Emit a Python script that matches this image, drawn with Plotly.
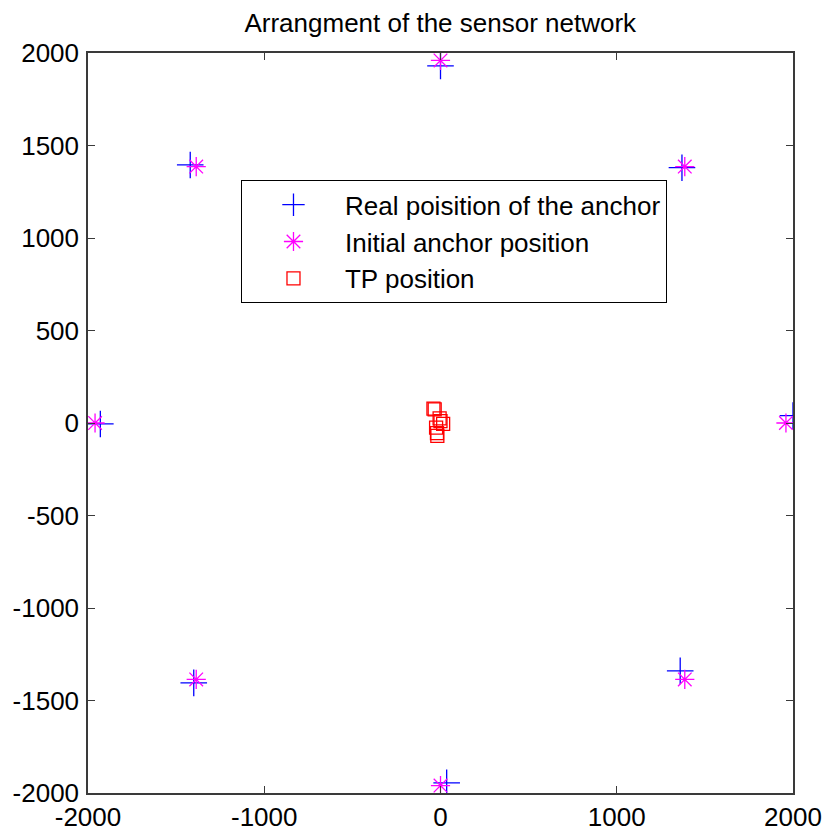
import plotly.graph_objects as go

# Real anchor positions (blue +)
real_x = [0, 1370, 2000, 1360, 35, -1400, -1930, -1420]
real_y = [1930, 1380, 40, -1340, -1945, -1405, -5, 1395]

# Initial anchor positions (magenta *)
init_x = [0, 1386, 1960, 1386, 0, -1386, -1960, -1386]
init_y = [1960, 1386, 0, -1386, -1960, -1386, 0, 1386]

# TP positions (red squares)
tp_x = [-40, -33, -5, 15, -25, -20, -18, 0]
tp_y = [78, 74, 25, -5, -25, -55, -70, 10]

title_text = "Arrangment of the sensor network"
x_ticks = [-2000, -1000, 0, 1000, 2000]
y_ticks = [-2000, -1500, -1000, -500, 0, 500, 1000, 1500, 2000]

FONT = "Liberation Sans, Arial, Helvetica"

fig = go.Figure()
fig.add_trace(go.Scatter(
    x=real_x, y=real_y, mode="markers", name="Real poisition of the anchor",
    marker=dict(symbol="cross-thin-open", size=19, color="#0000ff",
                line=dict(color="#0000ff", width=1.3))))
fig.add_trace(go.Scatter(
    x=init_x, y=init_y, mode="markers", name="Initial anchor position",
    marker=dict(symbol="asterisk-open", size=16, color="#ff00ff",
                line=dict(color="#ff00ff", width=1.3))))
fig.add_trace(go.Scatter(
    x=tp_x, y=tp_y, mode="markers", name="TP position",
    marker=dict(symbol="square-open", size=13, color="#ff0000",
                line=dict(color="#ff0000", width=1.3))))

axis_common = dict(
    showgrid=False, zeroline=False, showline=True, linecolor="#3a3a3a",
    linewidth=1.5, mirror="ticks", ticks="inside", ticklen=7,
    tickcolor="#3a3a3a", tickwidth=1, automargin=False,
    tickfont=dict(family=FONT, size=26, color="black"),
)
fig.update_xaxes(range=[-2000, 2000], tickvals=x_ticks,
                 ticktext=[str(v) for v in x_ticks], ticklabelstandoff=0,
                 **axis_common)
fig.update_yaxes(range=[-2000, 2000], tickvals=y_ticks,
                 ticktext=[str(v) for v in y_ticks], ticklabelstandoff=2,
                 **axis_common)

fig.update_layout(
    width=826, height=834,
    margin=dict(l=88, r=33, t=53, b=41),
    paper_bgcolor="white", plot_bgcolor="white",
    title=dict(text=title_text, x=0.533, xanchor="center", y=0.973, yanchor="middle",
               font=dict(family=FONT, size=26, color="black")),
    showlegend=True,
    legend=dict(x=0.217, y=0.828, xanchor="left", yanchor="top",
                bgcolor="white", bordercolor="black", borderwidth=1,
                font=dict(family=FONT, size=26, color="black"),
                itemwidth=93, tracegroupgap=0),
)

fig.write_html("out.html")
